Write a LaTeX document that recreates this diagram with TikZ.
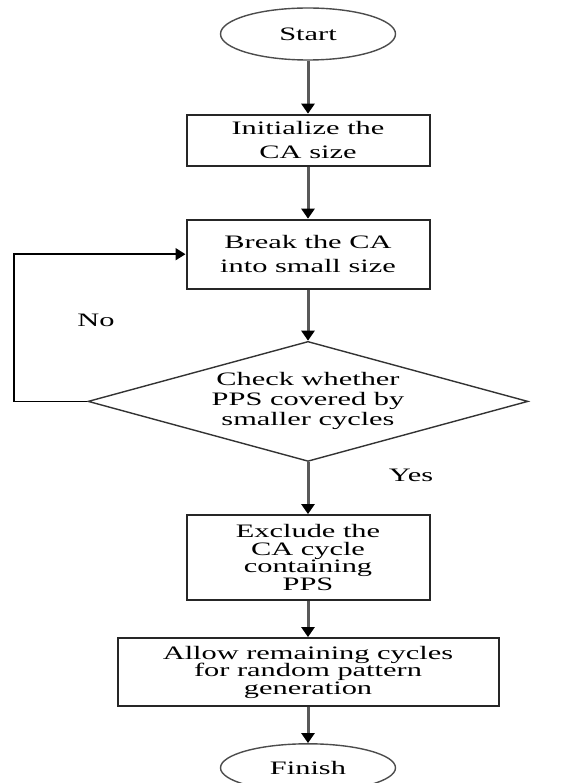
\documentclass[tikz,border=0pt]{standalone}
\usepackage{fontspec}
\setmainfont{Liberation Serif}[FakeStretch=1.6]
\usetikzlibrary{positioning,arrows.meta,shapes.geometric}
\tikzset{
        flownode/.style={align=center,inner sep=0pt,font=\fontsize{19}{24}\selectfont},
        % Start and end
        node_term/.style={flownode, ellipse, draw=black!70, line width=1.4pt, minimum width=175pt, minimum height=52pt},
        % Process steps
        node_proc/.style={flownode, rectangle, draw=black!85, line width=2pt, minimum width=243pt},
        % Decision
        node_check/.style={flownode, diamond, draw=black!80, line width=1.4pt, aspect=3.67, minimum width=440pt, minimum height=120pt},
        % Branch labels
        node_label/.style={font=\fontsize{19}{24}\selectfont, inner sep=1pt},
        flowarrow/.style={draw=black!65, line width=3pt, -{Triangle[color=black,width=13pt,length=10pt]}},
        loopline/.style={draw=black, line width=1.8pt, -{Triangle[width=12pt,length=10pt]}}
}
\begin{document}
\begin{tikzpicture}[x=1pt, y=-1pt]
            \useasboundingbox (0,0) rectangle (562,783);
            \node[node_term] (start) at (308,34) {Start};
            \node[node_proc, minimum height=51pt, below=53pt of start] (init) {Initialize the\\CA size};
            \node[node_proc, minimum height=69pt, below=52pt of init] (brk) {Break the CA\\into small size};
            \node[node_check, below=51pt of brk, font=\fontsize{19}{20}\selectfont] (check) {Check whether\\PPS covered by\\smaller cycles};
            \node[node_proc, minimum height=85pt, below=52pt of check, font=\fontsize{19}{17.5}\selectfont] (excl) {Exclude the\\CA cycle\\containing\\PPS};
            \node[node_proc, minimum width=381pt, minimum height=68pt, below=36pt of excl, font=\fontsize{19}{17.5}\selectfont] (allow) {Allow remaining cycles\\for random pattern\\generation};
            \node[node_term, minimum height=48pt, below=36pt of allow] (finish) {Finish};

            \node[node_label] (no) at (96,320) {No};
            \node[node_label] (yes) at (411,475) {Yes};

            \draw[flowarrow] (start) -- (init);
            \draw[flowarrow] (init) -- (brk);
            \draw[flowarrow] (brk) -- (check);
            \draw[flowarrow] (check) -- (excl);
            \draw[flowarrow] (excl) -- (allow);
            \draw[flowarrow] (allow) -- (finish);

            % loop back when not covered
            \coordinate (loopleft) at (14,0);
            \draw[loopline] (check.west) -- (check.west -| loopleft) |- (brk.west);
        \end{tikzpicture}
\end{document}
